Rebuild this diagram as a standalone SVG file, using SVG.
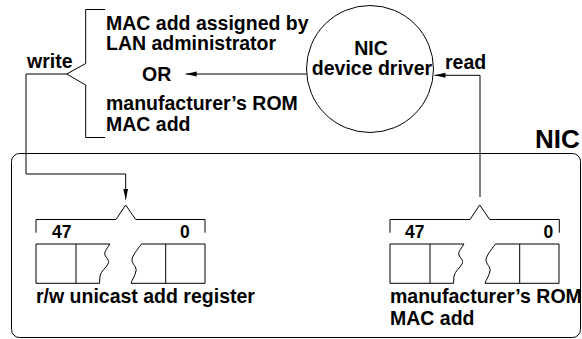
<svg xmlns="http://www.w3.org/2000/svg" width="582" height="339" viewBox="0 0 582 339">
<defs>
<style>
text{font-family:"Liberation Sans",Arial,sans-serif;font-weight:bold;font-size:19.5px;fill:#000}
.ln{fill:none;stroke:#000;stroke-width:1}
.dg{font-size:17.5px}
.big{font-size:26px}
.mid{text-anchor:middle}
</style>
<marker id="ah" markerUnits="userSpaceOnUse" markerWidth="12" markerHeight="7" refX="11" refY="3" orient="auto">
<path d="M0,0.5 L11,3 L0,5.5 z" fill="#000"/>
</marker>
</defs>
<rect fill="#fff" x="0" y="0" width="582" height="339"/>

<g id="nic-board">
<rect class="ln" x="11.5" y="153.5" width="569" height="184" rx="8"/>
<text class="big" x="535" y="148">NIC</text>
</g>

<g id="address-choice">
<path class="ln" d="M105,9.5 H85.7 V63.5 L66.7,74 L85.7,85 V137.5 H105"/>
<text x="106" y="30">MAC add assigned by</text>
<text x="106" y="50">LAN administrator</text>
<text x="142" y="81">OR</text>
<text x="106" y="109.5">manufacturer’s ROM</text>
<text x="106" y="130.5">MAC add</text>
</g>

<g id="driver">
<circle class="ln" cx="370" cy="69" r="63.5"/>
<text class="mid" x="371" y="55">NIC</text>
<text class="mid" x="372" y="75">device driver</text>
</g>

<g id="rw-register">
<path class="ln" d="M36,232.7 V219.5 H116 L125.7,205 L135.7,219.5 H205 V232.7"/>
<text class="dg" x="52" y="238">47</text>
<text class="dg" x="180" y="238">0</text>
<path class="ln" d="M110,244 H36 V283.3 H99.5 M76,244 V283.3"/>
<path class="ln" d="M110,244 C106,250 104,252 105,255 C106,258 110,260 108,264 C106,268 101,271 100,276 L99.5,283.3"/>
<path class="ln" d="M141.5,244 H205 V283.3 H131 M165.7,244 V283.3"/>
<path class="ln" d="M141.5,244 C137,250 132,256 132,260 C132,264 137,267 136,271 C135,276 132,280 131,283.3"/>
<text x="36" y="303">r/w unicast add register</text>
</g>

<g id="rom-register">
<path class="ln" d="M390,232.7 V219.5 H470 L479.7,205 L489.7,219.5 H559.3 V232.7"/>
<text class="dg" x="405" y="238">47</text>
<text class="dg" x="543.5" y="238">0</text>
<g transform="translate(354,0)">
<path class="ln" d="M110,244 H36 V283.3 H99.5 M76,244 V283.3"/>
<path class="ln" d="M110,244 C106,250 104,252 105,255 C106,258 110,260 108,264 C106,268 101,271 100,276 L99.5,283.3"/>
<path class="ln" d="M141.5,244 H205 V283.3 H131 M165.7,244 V283.3"/>
<path class="ln" d="M141.5,244 C137,250 132,256 132,260 C132,264 137,267 136,271 C135,276 132,280 131,283.3"/>
</g>
<text x="390" y="303">manufacturer’s ROM</text>
<text x="390" y="325">MAC add</text>
</g>

<g id="connectors">
<path class="ln" d="M66.7,74 H26 V174 H125.7 V199.5" marker-end="url(#ah)"/>
<text x="27" y="68">write</text>
<path class="ln" d="M306.7,74 H185.7" marker-end="url(#ah)"/>
<path class="ln" d="M480,197 V75.3 H434.5" marker-end="url(#ah)"/>
<text x="445" y="69">read</text>
</g>
</svg>
